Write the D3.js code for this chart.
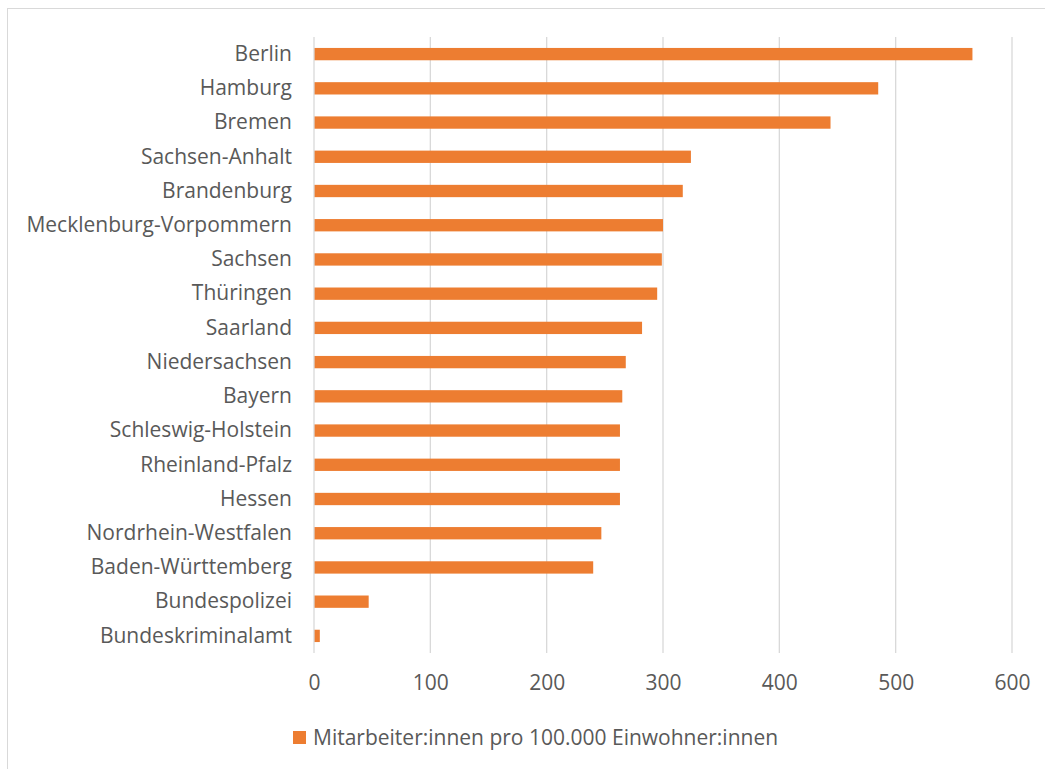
<!DOCTYPE html>
<html>
<head>
<meta charset="utf-8">
<script src="https://cdn.jsdelivr.net/npm/d3@7"></script>
<style>
  body { margin: 0; background: #fff; }
  text { font-family: "Open Sans", sans-serif; fill: #595959; }
</style>
</head>
<body>
<svg id="chart" width="1045" height="769"></svg>
<script>
// categories top to bottom
var laender = ["Berlin", "Hamburg", "Bremen", "Sachsen-Anhalt", "Brandenburg",
  "Mecklenburg-Vorpommern", "Sachsen", "Thüringen", "Saarland", "Niedersachsen",
  "Bayern", "Schleswig-Holstein", "Rheinland-Pfalz", "Hessen", "Nordrhein-Westfalen",
  "Baden-Württemberg", "Bundespolizei", "Bundeskriminalamt"];
var werte = [566, 485, 444, 324, 317, 300, 299, 295, 282, 268, 265, 263, 263, 263, 247, 240, 47, 5];
var xTicks = [0, 100, 200, 300, 400, 500, 600];
var serieName = "Mitarbeiter:innen pro 100.000 Einwohner:innen";

var svg = d3.select("#chart");
var fontSize = 21;

// outer frame
svg.append("rect")
  .attr("x", 7.5).attr("y", 8.5)
  .attr("width", 1045).attr("height", 769)
  .attr("fill", "none").attr("stroke", "#d9d9d9");

var plotLeft = 314, plotRight = 1012, plotTop = 37, plotBottom = 653;

var x = d3.scaleLinear().domain([0, 600]).range([plotLeft, plotRight]);
var y = d3.scaleBand().domain(laender).range([plotTop, plotBottom]).paddingInner(0.64).paddingOuter(0.32);

// gridlines
svg.append("g")
  .selectAll("line")
  .data(xTicks.slice(1))
  .join("line")
    .attr("x1", function(d) { return x(d); })
    .attr("x2", function(d) { return x(d); })
    .attr("y1", plotTop).attr("y2", plotBottom)
    .attr("stroke", "#d9d9d9").attr("stroke-width", 1.3);

// bars
svg.append("g")
  .selectAll("rect")
  .data(werte)
  .join("rect")
    .attr("x", x(0))
    .attr("y", function(d, i) { return y(laender[i]); })
    .attr("width", function(d) { return x(d) - x(0); })
    .attr("height", y.bandwidth())
    .attr("fill", "#ED7D31");

// category axis line
svg.append("line")
  .attr("x1", x(0)).attr("x2", x(0))
  .attr("y1", plotTop).attr("y2", plotBottom)
  .attr("stroke", "#d9d9d9").attr("stroke-width", 1.3);

// category labels
var yAxis = svg.append("g")
  .attr("transform", "translate(" + x(0) + ",0)")
  .call(d3.axisLeft(y).tickSize(0).tickPadding(22));
yAxis.select(".domain").remove();
yAxis.selectAll("text")
  .attr("font-size", fontSize)
  .attr("font-family", null)
  .attr("fill", "#595959");

// value axis labels
var xAxis = svg.append("g")
  .attr("transform", "translate(0," + plotBottom + ")")
  .call(d3.axisBottom(x).tickValues(xTicks).tickSize(0).tickPadding(22));
xAxis.select(".domain").remove();
xAxis.selectAll("text")
  .attr("font-size", fontSize)
  .attr("font-family", null)
  .attr("fill", "#595959");

// legend
var legend = svg.append("g").attr("transform", "translate(293,731)");
legend.append("rect")
  .attr("width", 13).attr("height", 13)
  .attr("fill", "#ED7D31");
legend.append("text")
  .attr("x", 20).attr("y", 6.5)
  .attr("dy", "0.35em")
  .attr("font-size", fontSize)
  .text(serieName);
</script>
</body>
</html>
